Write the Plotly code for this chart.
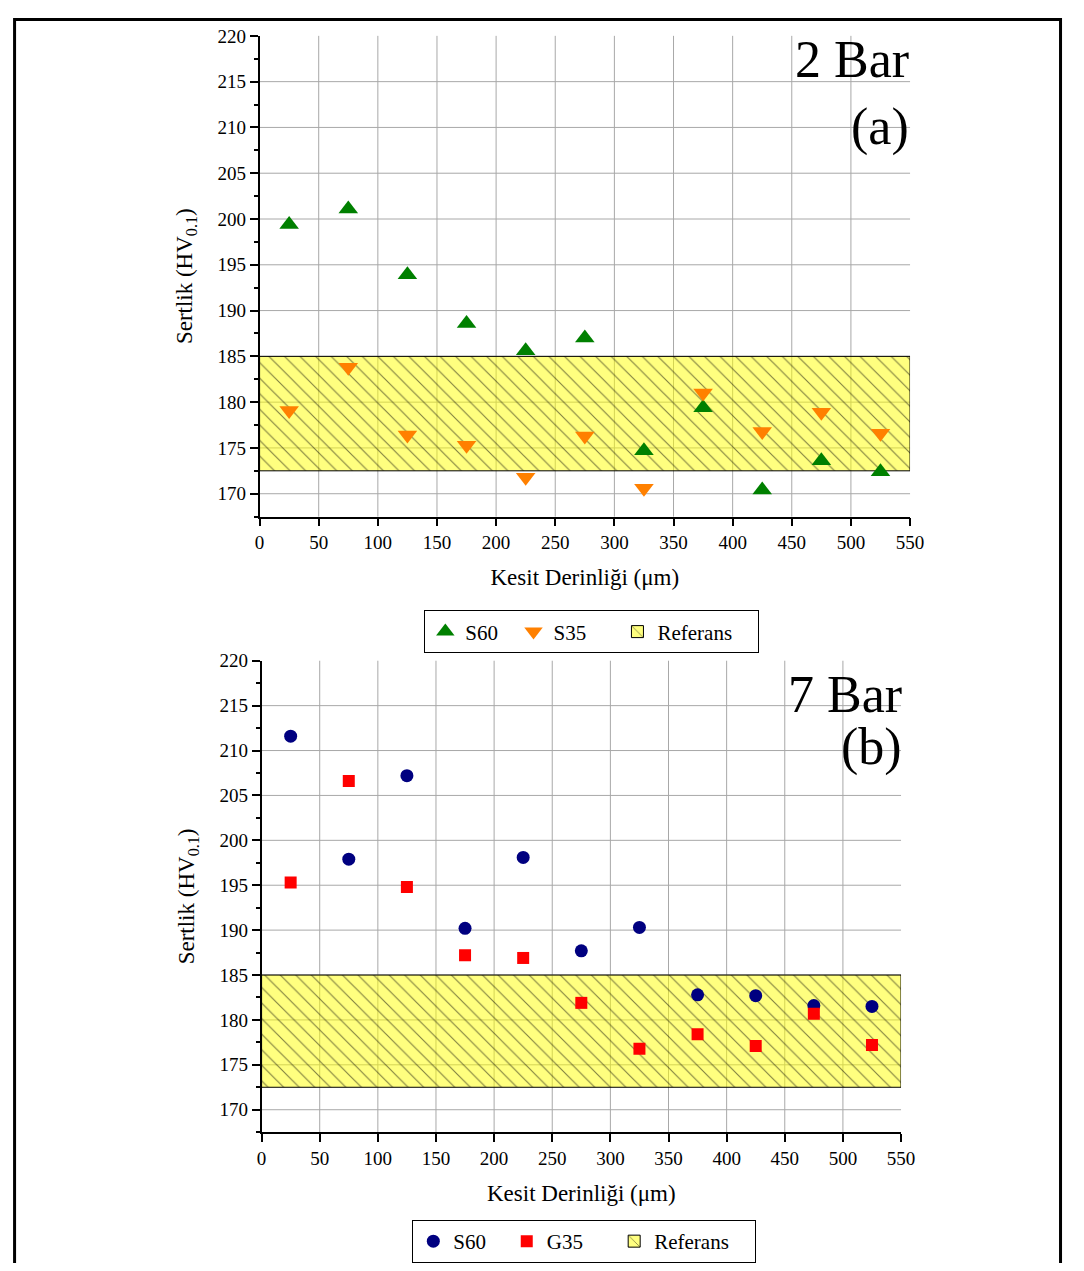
import plotly.graph_objects as go

# ---------------- data ----------------
depth = [25, 75, 125, 175, 225, 275, 325, 375, 425, 475, 525]

# (a) 2 Bar
a_s60 = [199.4, 201.1, 193.9, 188.6, 185.6, 187.0, 174.7, 179.4, 170.4, 173.6, 172.4]
a_s35 = [179.1, 183.8, 176.4, 175.3, 171.8, 176.3, 170.6, 181.0, 176.8, 178.9, 176.6]

# (b) 7 Bar
b_s60 = [211.6, 197.9, 207.2, 190.2, 198.1, 187.7, 190.3, 182.8, 182.7, 181.6, 181.5]
b_g35 = [195.3, 206.6, 194.8, 187.2, 186.9, 181.9, 176.8, 178.4, 177.1, 180.7, 177.2]

# reference band
ref_x = [0, 550]
ref_low = 172.5
ref_high = 185.0

x_range = [0, 550]
y_range = [167.5, 220]
x_ticks = list(range(0, 551, 50))
y_ticks = list(range(170, 221, 5))
x_grid = x_ticks[1:-1]
y_grid = y_ticks[:-1]

WF, HF = 1068, 1255
# mapping from target picture pixels to figure pixels (measured calibration)
SX, BX = 0.9815, 12.6
SY, BY = 0.9857, 17.7
FONT = "Times New Roman, Liberation Serif, serif"
NB = "\u00a0"


def px(p):
    return ((p - BX) / SX) / WF


def py(p):
    return 1 - ((p - BY) / SY) / HF


fig = go.Figure()


def add_band(xa, ya, leg):
    fig.add_trace(go.Bar(
        x=[(ref_x[0] + ref_x[1]) / 2], y=[ref_high - ref_low], base=[ref_low],
        width=[ref_x[1] - ref_x[0]], name="Referans" + NB * 4,
        marker=dict(color="rgba(255,255,0,0.5)",
                    line=dict(color="black", width=1),
                    pattern=dict(shape="\\", fgcolor="black", size=11,
                                 solidity=0.1, fillmode="overlay")),
        xaxis=xa, yaxis=ya, legend=leg, showlegend=True, hoverinfo="skip"))


# top subplot
fig.add_trace(go.Scatter(x=depth, y=a_s60, mode="markers", name="S60" + NB * 2,
                         marker=dict(symbol="triangle-up", size=17, color="#008000"),
                         xaxis="x", yaxis="y", legend="legend"))
fig.add_trace(go.Scatter(x=depth, y=a_s35, mode="markers", name="S35" + NB * 5,
                         marker=dict(symbol="triangle-down", size=17, color="#FF8000"),
                         xaxis="x", yaxis="y", legend="legend"))
add_band("x", "y", "legend")

# bottom subplot
fig.add_trace(go.Scatter(x=depth, y=b_s60, mode="markers", name="S60" + NB * 3,
                         marker=dict(symbol="circle", size=13, color="#000080"),
                         xaxis="x2", yaxis="y2", legend="legend2"))
fig.add_trace(go.Scatter(x=depth, y=b_g35, mode="markers", name="G35" + NB * 5,
                         marker=dict(symbol="square", size=12, color="#FF0000"),
                         xaxis="x2", yaxis="y2", legend="legend2"))
add_band("x2", "y2", "legend2")


def xaxis_cfg(domain, anchor):
    return dict(domain=domain, anchor=anchor, range=x_range,
                tickmode="array", tickvals=x_ticks,
                ticks="outside", ticklen=8, tickwidth=1.5, tickcolor="black",
                showline=True, linecolor="black", linewidth=1.5,
                showgrid=False, zeroline=False,
                tickfont=dict(family=FONT, size=19, color="black"),
                title=dict(text="Kesit Derinliği (μm)",
                           font=dict(family=FONT, size=23, color="black"),
                           standoff=17))


def yaxis_cfg(domain, anchor):
    return dict(domain=domain, anchor=anchor, range=y_range,
                tickmode="array", tickvals=y_ticks,
                ticks="outside", ticklen=8, tickwidth=1.5, tickcolor="black",
                minor=dict(dtick=2.5, tick0=167.5, ticks="outside", ticklen=4,
                           tickwidth=1.5, tickcolor="black", showgrid=False),
                showline=True, linecolor="black", linewidth=1.5,
                showgrid=False, zeroline=False,
                tickfont=dict(family=FONT, size=19, color="black"),
                title=dict(text="Sertlik (HV<sub>0.1</sub>)",
                           font=dict(family=FONT, size=23, color="black"),
                           standoff=18))


def grid_shapes(xa, ya):
    out = []
    for gx in x_grid:
        out.append(dict(type="line", xref=xa, yref=ya + " domain", x0=gx, x1=gx,
                        y0=0, y1=1, layer="below",
                        line=dict(color="#a8a8a8", width=1)))
    for gy in y_grid:
        out.append(dict(type="line", xref=xa + " domain", yref=ya, x0=0, x1=1,
                        y0=gy, y1=gy, layer="below",
                        line=dict(color="#a8a8a8", width=1)))
    return out


legend_common = dict(orientation="h", xanchor="center", yanchor="top",
                     bordercolor="black", borderwidth=1, bgcolor="white",
                     font=dict(family=FONT, size=21, color="black"),
                     traceorder="normal", itemclick=False)

ann_font = dict(family=FONT, size=52, color="black")

shapes = grid_shapes("x", "y") + grid_shapes("x2", "y2")
shapes.append(dict(type="rect", xref="paper", yref="paper", x0=0.0015, x1=0.9986,
                   y0=0.9988, y1=-0.02, line=dict(color="black", width=3),
                   fillcolor="rgba(0,0,0,0)"))

fig.update_layout(
    width=WF, height=HF,
    margin=dict(l=0, r=0, t=0, b=0),
    paper_bgcolor="white", plot_bgcolor="rgba(0,0,0,0)",
    barmode="overlay",
    xaxis=xaxis_cfg([px(259), px(909)], "y"),
    yaxis=yaxis_cfg([py(520.4), py(35.7)], "x"),
    xaxis2=xaxis_cfg([px(261), px(900)], "y2"),
    yaxis2=yaxis_cfg([py(1141), py(665.7)], "x2"),
    legend=dict(x=px(591), y=py(615), **legend_common),
    legend2=dict(x=px(583.5), y=py(1230), **legend_common),
    annotations=[
        dict(text="2 Bar", xref="paper", yref="paper", x=px(910), y=py(29),
             xanchor="right", yanchor="top", showarrow=False, font=ann_font),
        dict(text="(a)", xref="paper", yref="paper", x=px(910), y=py(96.6),
             xanchor="right", yanchor="top", showarrow=False, font=ann_font),
        dict(text="7 Bar", xref="paper", yref="paper", x=px(903), y=py(669),
             xanchor="right", yanchor="top", showarrow=False, font=ann_font),
        dict(text="(b)", xref="paper", yref="paper", x=px(903), y=py(721),
             xanchor="right", yanchor="top", showarrow=False, font=ann_font),
    ],
    shapes=shapes,
)

fig.write_html("out.html")
